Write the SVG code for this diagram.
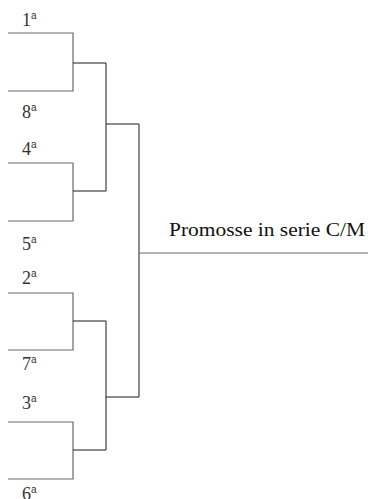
<svg xmlns="http://www.w3.org/2000/svg" width="368" height="499" viewBox="0 0 368 499">
<style>
.l1{stroke:#6a6a6a;stroke-width:1.2;fill:none}
.l2{stroke:#1a1a1a;stroke-width:1;fill:none}
.lab{font-family:'Liberation Serif','DejaVu Serif',serif;font-size:18px;fill:#333}
.sup{font-family:'Liberation Sans',sans-serif;font-size:10px}
.title{font-family:'Liberation Serif','DejaVu Serif',serif;font-size:18px;fill:#111}
</style>
<rect width="368" height="499" fill="#fff"/>
<g id="connectors">
<path class="l1" d="M8 33H73V91H8"/>
<path class="l1" d="M8 163H73V221H8"/>
<path class="l1" d="M8 293H73V350H8"/>
<path class="l1" d="M8 422H73V479H8"/>
<path class="l2" d="M73 63H106V191H73"/>
<path class="l2" d="M73 321H106V450H73"/>
<path class="l2" d="M106 124H139V397H106"/>
<path class="l1" d="M139 253H368"/>
</g>
<g id="n1"><text class="lab" x="22" y="26">1<tspan class="sup" dy="-7">a</tspan></text></g>
<g id="n8"><text class="lab" x="22" y="118">8<tspan class="sup" dy="-7">a</tspan></text></g>
<g id="n4"><text class="lab" x="22" y="155">4<tspan class="sup" dy="-7">a</tspan></text></g>
<g id="n5"><text class="lab" x="22" y="250">5<tspan class="sup" dy="-7">a</tspan></text></g>
<g id="n2"><text class="lab" x="22" y="284">2<tspan class="sup" dy="-7">a</tspan></text></g>
<g id="n7"><text class="lab" x="22" y="370">7<tspan class="sup" dy="-7">a</tspan></text></g>
<g id="n3"><text class="lab" x="22" y="409">3<tspan class="sup" dy="-7">a</tspan></text></g>
<g id="n6"><text class="lab" x="22" y="500">6<tspan class="sup" dy="-7">a</tspan></text></g>
<g id="winner"><text class="title" x="169" y="236" textLength="196" lengthAdjust="spacingAndGlyphs">Promosse in serie C/M</text></g>
</svg>
